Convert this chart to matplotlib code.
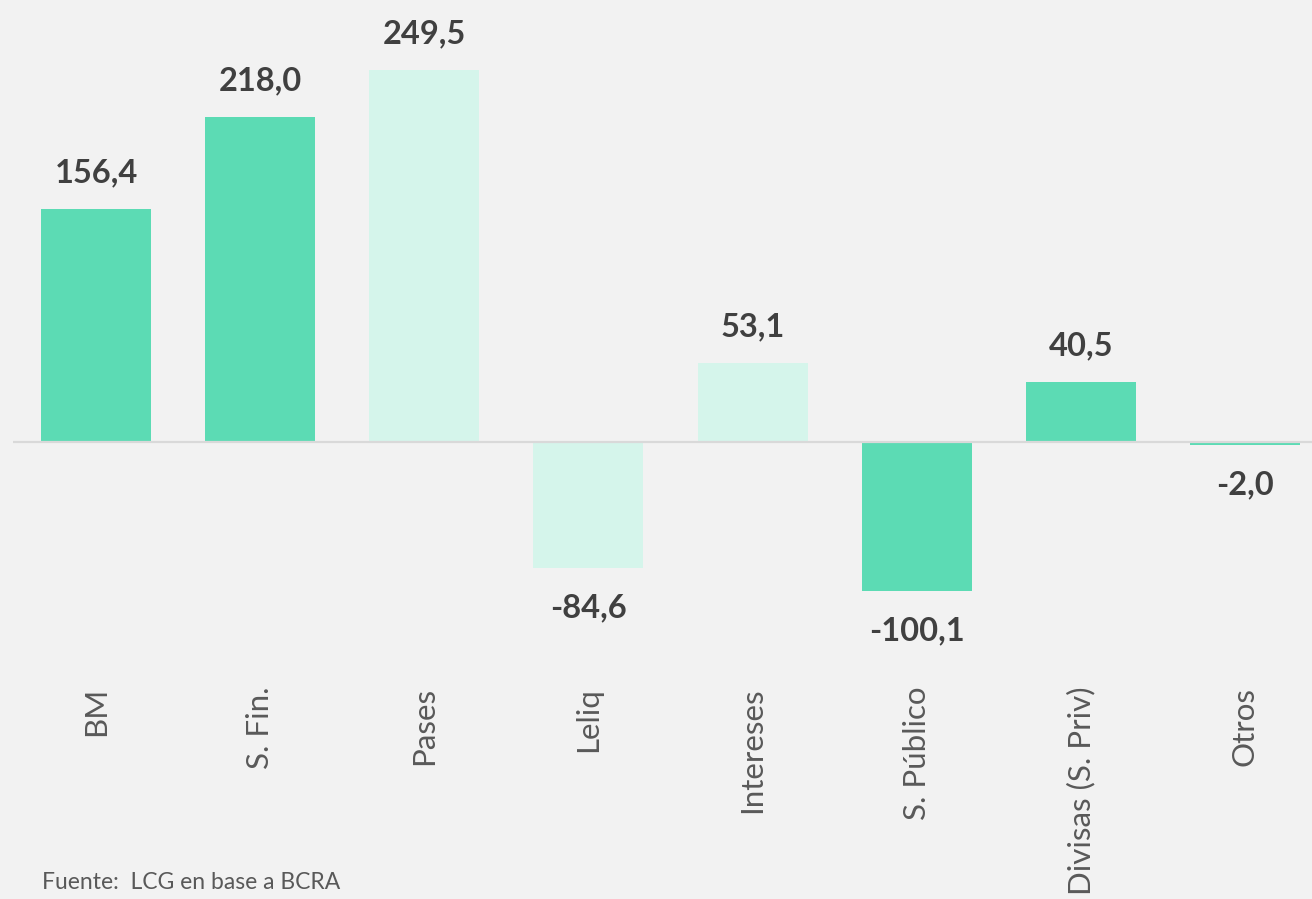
import matplotlib.pyplot as plt

# Datos
categorias = ['BM', 'S. Fin.', 'Pases', 'Leliq', 'Intereses', 'S. Público', 'Divisas (S. Priv)', 'Otros']
valores = [156.4, 218.0, 249.5, -84.6, 53.1, -100.1, 40.5, -2.0]
etiquetas = ['156,4', '218,0', '249,5', '-84,6', '53,1', '-100,1', '40,5', '-2,0']
claro = [False, False, True, True, True, False, False, False]

verde = '#5cdbb4'
verde_claro = '#d5f5eb'
fondo = '#f2f2f2'

plt.rcParams['font.family'] = ['Lato', 'DejaVu Sans']

W, H = 1312, 899
fig = plt.figure(figsize=(W / 100, H / 100), dpi=100, facecolor=fondo)

# Ejes en pixeles: izquierda 13, derecha 1312, arriba 0, abajo 680
ax = fig.add_axes([13 / W, (H - 680) / H, (W - 13) / W, 680 / H])
ax.set_facecolor(fondo)

escala = 1.491  # px por unidad
cero = 442
ax.set_ylim(-(680 - cero) / escala, cero / escala)
ax.set_xlim(-83 / 164, 7 + (1312 - 1245) / 164)

x = list(range(len(categorias)))
colores = [verde_claro if c else verde for c in claro]
ax.bar(x, valores, width=0.67, color=colores, zorder=2)
ax.axhline(0, color='#d9d9d9', linewidth=1.6, zorder=3)

for xi, v, t in zip(x, valores, etiquetas):
    if v >= 0:
        ax.annotate(t, (xi, v), xytext=(0, 19), textcoords='offset points',
                    ha='center', va='baseline', fontsize=23.5, fontweight='bold', color='#404040')
    else:
        ax.annotate(t, (xi, v), xytext=(0, -18), textcoords='offset points',
                    ha='center', va='top', fontsize=23.5, fontweight='bold', color='#404040')

ax.set_xticks(x)
ax.set_xticklabels(categorias, rotation=90, fontsize=22.5, color='#595959')
ax.tick_params(axis='x', length=0, pad=5)
ax.set_yticks([])
for s in ax.spines.values():
    s.set_visible(False)

fig.text(42 / W, 1 - 889 / H, 'Fuente:  LCG en base a BCRA', fontsize=16.5, color='#595959',
         ha='left', va='baseline')

fig.savefig('out.png', dpi=100, facecolor=fondo)
